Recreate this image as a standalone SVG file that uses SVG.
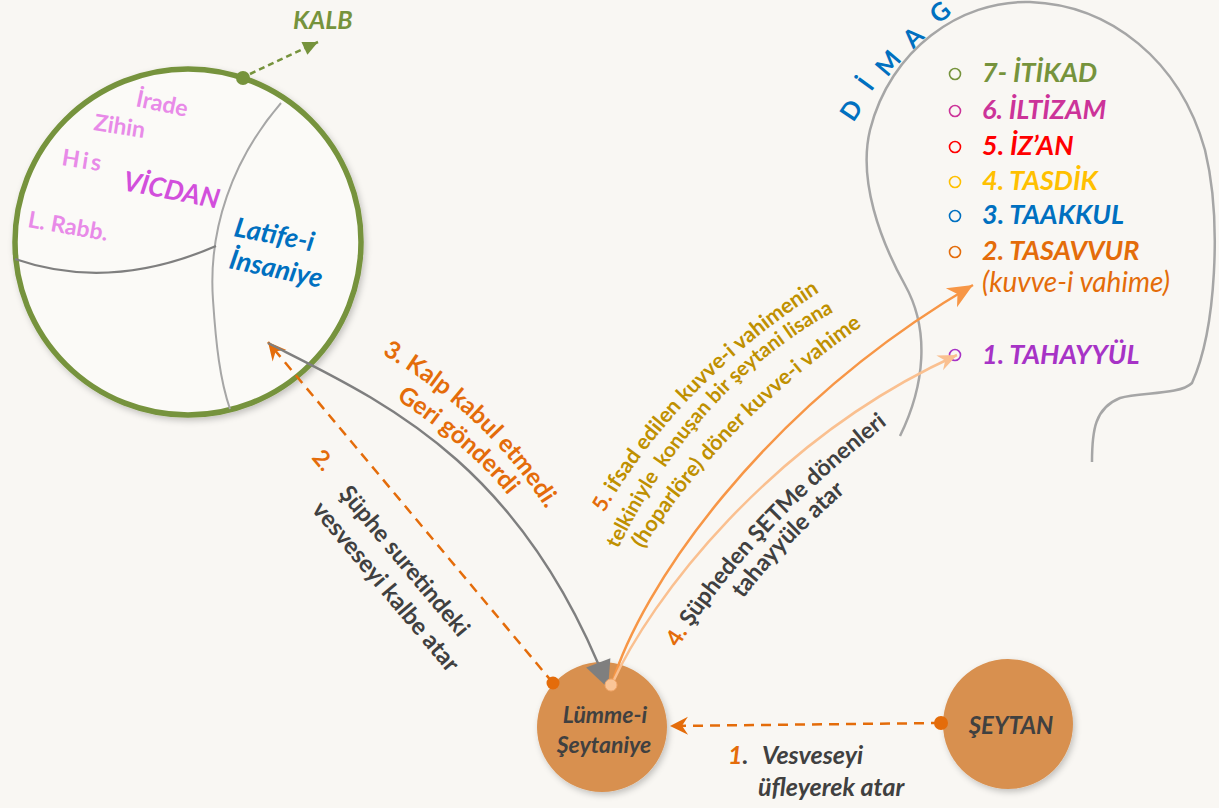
<svg xmlns="http://www.w3.org/2000/svg" width="1219" height="808" viewBox="0 0 1219 808">
<defs>
<style>
text{font-family:Lato,"Open Sans","Liberation Sans",sans-serif;}
.b{font-weight:bold;}
.bi{font-weight:bold;font-style:italic;}
.list{font-size:27px;font-weight:bold;font-style:italic;}
.bul{fill:none;stroke-width:1.6;}
.dark{fill:#404040;}
.or{fill:#E46C0A;}
.gold{fill:#BF9000;}
.lav{fill:#E88AE8;font-weight:bold;font-size:23px;}
.node{fill:#D8904F;}
.dashO{fill:none;stroke:#E46C0A;stroke-width:2.5;stroke-dasharray:10 7;}
.dimag{fill:#0070C0;font-weight:bold;font-size:25px;}
.inner{fill:none;stroke:#A6A6A6;stroke-width:2;}
</style>
<filter id="sh" x="-20%" y="-20%" width="140%" height="140%"><feDropShadow dx="2" dy="3" stdDeviation="3" flood-color="#000" flood-opacity="0.22"/></filter>
<marker id="mDashO" markerUnits="userSpaceOnUse" viewBox="-20 -10 22 20" markerWidth="22" markerHeight="20" refX="0" refY="0" orient="auto"><path d="M0,0 L-18,-9 L-12,0 L-18,9 Z" fill="#E46C0A"/></marker>
<marker id="mGreen" markerUnits="userSpaceOnUse" viewBox="-16 -8 18 16" markerWidth="18" markerHeight="16" refX="0" refY="0" orient="auto"><path d="M0,0 L-15,-7 L-15,7 Z" fill="#76933C"/></marker>
<marker id="mGray" markerUnits="userSpaceOnUse" viewBox="-30 -15 32 30" markerWidth="32" markerHeight="30" refX="0" refY="0" orient="auto"><path d="M0,0 L-27,-13 L-27,13 Z" fill="#7F7F7F"/></marker>
<marker id="mOr" markerUnits="userSpaceOnUse" viewBox="-28 -13 30 26" markerWidth="30" markerHeight="26" refX="0" refY="0" orient="auto"><path d="M0,0 L-25,-11 L-18,0 L-25,11 Z" fill="#F79646"/></marker>
<marker id="mLight" markerUnits="userSpaceOnUse" viewBox="-22 -10 24 20" markerWidth="24" markerHeight="20" refX="0" refY="0" orient="auto"><path d="M0,0 L-19,-8 L-13,0 L-19,8 Z" fill="#FAC090"/></marker>
<path id="p5a" d="M604,513 Q679,383 821,291 L860,270"/>
<path id="p5b" d="M618,549 Q705,371 861,298 L900,282"/>
<path id="p5c" d="M643,549 Q720,425 866,323 L900,303"/>
<path id="p4a" d="M678,648 Q751,531 889,423 L920,400"/>
<path id="p4b" d="M743,599 Q786,542 856,483 L890,458"/>
<path id="p3a" d="M382,354 Q487,415 546,509 L565,545"/>
<path id="p3b" d="M396,399 Q471,448 511,499 L530,530"/>
</defs>
<rect width="1219" height="808" fill="#F9F7F3"/>

<g id="kalb">
<circle cx="188" cy="242" r="173" fill="#FBFAF7" stroke="#76933C" stroke-width="5.5" filter="url(#sh)"/>
<path class="inner" d="M281,103 C232,160 208,230 213,300 C216,345 220,380 230,409"/>
<path d="M15,259 Q110,292 216,246" fill="none" stroke="#7F7F7F" stroke-width="2.2"/>
<text class="lav" transform="translate(135,106) rotate(12)">İrade</text>
<text class="lav" transform="translate(93,130) rotate(9)">Zihin</text>
<text class="lav" transform="translate(61,165) rotate(9)" letter-spacing="3">His</text>
<text class="bi" font-size="27" fill="#D24FDC" transform="translate(122,190) rotate(11)">VİCDAN</text>
<text class="lav" transform="translate(27,227) rotate(10)">L. Rabb.</text>
<text class="bi" font-size="27" fill="#0070C0" transform="translate(233,236) rotate(11)">Latife-i</text>
<text class="bi" font-size="27" fill="#0070C0" transform="translate(228,268) rotate(12)">İnsaniye</text>
<circle cx="243" cy="78" r="7" fill="#76933C"/>
<text class="bi" font-size="25" fill="#76933C" x="293" y="29">KALB</text>
</g>

<g id="dimag">
<path d="M900,436 C925,385 930,330 905,285 C880,240 858,180 870,130 C890,50 960,0 1030,2 C1110,5 1180,60 1205,150 C1222,220 1216,330 1192,383 C1180,395 1140,392 1120,398 C1095,408 1092,430 1092,462" fill="none" stroke="#A6A6A6" stroke-width="2.5"/>
<text class="dimag" text-anchor="middle" transform="translate(851,110) rotate(-56)" y="9">D</text>
<text class="dimag" text-anchor="middle" transform="translate(866,84) rotate(-54)" y="9">İ</text>
<text class="dimag" text-anchor="middle" transform="translate(888,63) rotate(-50)" y="9">M</text>
<text class="dimag" text-anchor="middle" transform="translate(913,37) rotate(-45)" y="9">A</text>
<text class="dimag" text-anchor="middle" transform="translate(940,12) rotate(-40)" y="9">G</text>
<circle class="bul" cx="955" cy="74" r="5.5" stroke="#76933C"/>
<text class="list" x="982" y="82" fill="#76933C">7- İTİKAD</text>
<circle class="bul" cx="955" cy="111" r="5.5" stroke="#CC3399"/>
<text class="list" x="982" y="119" fill="#CC3399">6. İLTİZAM</text>
<circle class="bul" cx="955" cy="147" r="5.5" stroke="#FF0000"/>
<text class="list" x="982" y="155" fill="#FF0000">5. İZ’AN</text>
<circle class="bul" cx="955" cy="182" r="5.5" stroke="#FFC000"/>
<text class="list" x="982" y="190" fill="#FFC000">4. TASDİK</text>
<circle class="bul" cx="955" cy="216" r="5.5" stroke="#0070C0"/>
<text class="list" x="982" y="224" fill="#0070C0">3. TAAKKUL</text>
<circle class="bul" cx="955" cy="252" r="5.5" stroke="#E46C0A"/>
<text class="list" x="982" y="260" fill="#E46C0A">2. TASAVVUR</text>
<text x="982" y="292" font-size="28" font-style="italic" fill="#E46C0A">(kuvve-i vahime)</text>
<circle class="bul" cx="955" cy="355" r="5.5" stroke="#A733C6"/>
<text class="list" x="982" y="364" fill="#A733C6">1. TAHAYYÜL</text>
</g>

<g id="lumme">
<circle class="node" cx="602" cy="727" r="65" filter="url(#sh)"/>
<text class="bi dark" font-size="23" text-anchor="middle" x="605" y="723">Lümme-i</text>
<text class="bi dark" font-size="23" text-anchor="middle" x="604" y="753">Şeytaniye</text>
</g>

<g id="seytan">
<circle class="node" cx="1008" cy="724" r="65" filter="url(#sh)"/>
<text class="bi dark" font-size="24" text-anchor="middle" x="1011" y="734">ŞEYTAN</text>
</g>

<g id="connectors">
<path d="M250,74 L318,42" fill="none" stroke="#76933C" stroke-width="2.5" stroke-dasharray="6 4" marker-end="url(#mGreen)"/>
<path class="dashO" d="M941,723 L670,726" marker-end="url(#mDashO)"/>
<path class="dashO" d="M553,683 L268,342" marker-end="url(#mDashO)"/>
<path d="M268,343 C380,400 520,460 608,688" fill="none" stroke="#7F7F7F" stroke-width="2.5" marker-end="url(#mGray)"/>
<path d="M612,684 C640,590 760,410 973,285" fill="none" stroke="#F79646" stroke-width="2.5" marker-end="url(#mOr)"/>
<path d="M612,684 C650,600 770,440 957,355" fill="none" stroke="#FAC090" stroke-width="2.5" marker-end="url(#mLight)"/>
<circle cx="611" cy="685" r="6" fill="#FAC597" stroke="#F4A86A" stroke-width="1"/>
<circle cx="553" cy="683" r="6.5" fill="#E46C0A"/>
<circle cx="941" cy="723" r="7" fill="#E46C0A"/>
</g>

<g id="labels">
<text class="bi" font-size="25" x="728" y="764"><tspan class="or">1</tspan><tspan class="dark">.</tspan><tspan class="dark" x="762">Vesveseyi</tspan></text>
<text class="bi dark" font-size="25" x="758" y="796">üfleyerek atar</text>
<text class="b or" font-size="23" transform="translate(311,458) rotate(50)">2.</text>
<text class="b dark" font-size="23.5" transform="translate(338,494) rotate(50)">Şüphe suretindeki</text>
<text class="b dark" font-size="24" transform="translate(311,510) rotate(50)">vesveseyi kalbe atar</text>
<text class="b or" font-size="24.5"><textPath href="#p3a">3. Kalp kabul etmedi.</textPath></text>
<text class="b or" font-size="24.5"><textPath href="#p3b">Geri gönderdi</textPath></text>
<text class="b gold" font-size="21.5"><textPath href="#p5a"><tspan class="or">5.</tspan> ifsad edilen kuvve-i vahimenin</textPath></text>
<text class="b gold" font-size="20.5" xml:space="preserve"><textPath href="#p5b">telkiniyle  konuşan bir şeytani lisana</textPath></text>
<text class="b gold" font-size="21.5"><textPath href="#p5c">(hoparlöre) döner kuvve-i vahime</textPath></text>
<text class="b dark" font-size="23"><textPath href="#p4a"><tspan class="or">4.</tspan> Şüpheden ŞETMe dönenleri</textPath></text>
<text class="b dark" font-size="23.5"><textPath href="#p4b">tahayyüle atar</textPath></text>
</g>
</svg>
